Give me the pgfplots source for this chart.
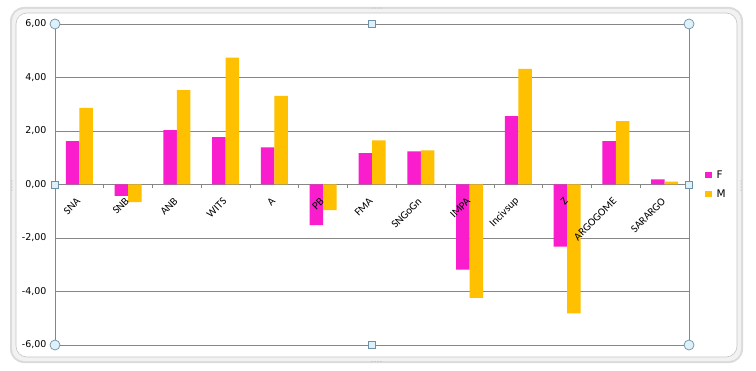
\documentclass[border=0pt]{standalone}
\usepackage{pgfplots}
\pgfplotsset{compat=1.18}
\usetikzlibrary{calc}
\usepackage{fontspec}
\setmainfont{DejaVu Sans}
\newfontfamily\carlito{Carlito}
\definecolor{barF}{RGB}{250,29,205}
\definecolor{barM}{RGB}{255,192,0}
\definecolor{gridc}{RGB}{134,134,134}
\definecolor{hfill}{RGB}{222,240,248}
\definecolor{hdraw}{RGB}{110,145,170}
\pgfplotsset{sqlegend/.style={legend image code/.code={\fill[##1,draw=none] (0bp,-3.3bp) rectangle (6.8bp,3.3bp); \path (9.5bp,0bp);}}}
\pgfplotsset{base/.style={
  at={(55bp,25bp)}, anchor=south west,
  scale only axis, width=634bp, height=321bp,
  ymin=-6, ymax=6, xmin=-0.5, xmax=12.5,
  xtick={0,...,12},
  axis x line=middle,
  hide obscured x ticks=false, hide obscured y ticks=false,
  clip=false,
}}
\begin{document}
\begin{tikzpicture}[x=1bp,y=1bp]
\useasboundingbox (0,0) rectangle (756,370);
% chart frame
\fill[gray!28, rounded corners=14bp] (10,7) rectangle (743,363);
\fill[gray!10, rounded corners=12bp] (12,9) rectangle (741,361);
\fill[white, rounded corners=11bp] (16,13) rectangle (737,357);
\draw[gray!45, line width=0.6bp, rounded corners=11bp] (16,13) rectangle (737,357);
% grips
\foreach \i in {0,...,3} {
  \fill[gray!55] (372+3*\i,362) circle (0.6bp);
  \fill[gray!55] (372+3*\i,8.5) circle (0.6bp);
  \fill[gray!55] (12,180+3*\i) circle (0.6bp);
  \fill[gray!55] (741,180+3*\i) circle (0.6bp);
}
\begin{axis}[
  base,
  ytick={-6,-4,...,6},
  xticklabels={},
  minor xtick={0.5,1.5,...,11.5},
  major x tick style={draw=none},
  minor x tick style={draw=gridc, line width=0.8bp},
  minor tick length=4bp,
  tick align=outside,
  ytick style={draw=none},
  axis y line=left,
  axis line style={-, draw=gridc, line width=0.8bp},
  ymajorgrids, major grid style={draw=gridc, line width=0.8bp},
  ybar=0pt, bar width=13.5bp,
  /pgf/number format/assume math mode=true,
  yticklabel style={/pgf/number format/fixed, /pgf/number format/fixed zerofill, /pgf/number format/precision=2, /pgf/number format/use comma, font=\fontsize{9.5}{11}\selectfont, xshift=-3bp},
  legend style={at={(1,0.5)}, anchor=west, xshift=13bp, draw=none, fill=none,
    font=\fontsize{10.5}{12}\selectfont, row sep=6bp},
  legend cell align=left,
]
\addplot[fill=barF, draw=none, sqlegend] coordinates {
(0,1.62) (1,-0.43) (2,2.03) (3,1.77) (4,1.39) (5,-1.52) (6,1.17)
(7,1.24) (8,-3.18) (9,2.56) (10,-2.32) (11,1.62) (12,0.19)};
\addlegendentry{F}
\addplot[fill=barM, draw=none, sqlegend] coordinates {
(0,2.86) (1,-0.66) (2,3.53) (3,4.74) (4,3.31) (5,-0.96) (6,1.65)
(7,1.28) (8,-4.24) (9,4.32) (10,-4.82) (11,2.37) (12,0.11)};
\addlegendentry{M}
\end{axis}
\begin{axis}[
  base,
  axis y line=none,
  axis line style={draw=none},
  ytick=\empty,
  major x tick style={draw=none},
  xticklabels={SNA,SNB,ANB,WITS,A,PB,FMA,SNGoGn,IMPA,Incivsup,Z,ARGOGOME,SARARGO},
  xticklabel style={rotate=45, anchor=east, font=\carlito\fontsize{11}{12}\selectfont, xshift=-6.5bp, yshift=-8.5bp},
]
\addplot[draw=none, forget plot] coordinates {(0,0) (12,0)};
\end{axis}
\draw[gridc, line width=0.8bp] (current axis.north east) -- (current axis.south east);
\foreach \p in {north west, north east, south west, south east}
  \draw[hdraw, fill=hfill, line width=0.7bp] (current axis.\p) circle (5bp);
\foreach \p in {north, south, west, east}
  \draw[hdraw, fill=hfill, line width=0.7bp] ($(current axis.\p)+(-3.5,-3.5)$) rectangle ++(7,7);
\end{tikzpicture}
\end{document}
